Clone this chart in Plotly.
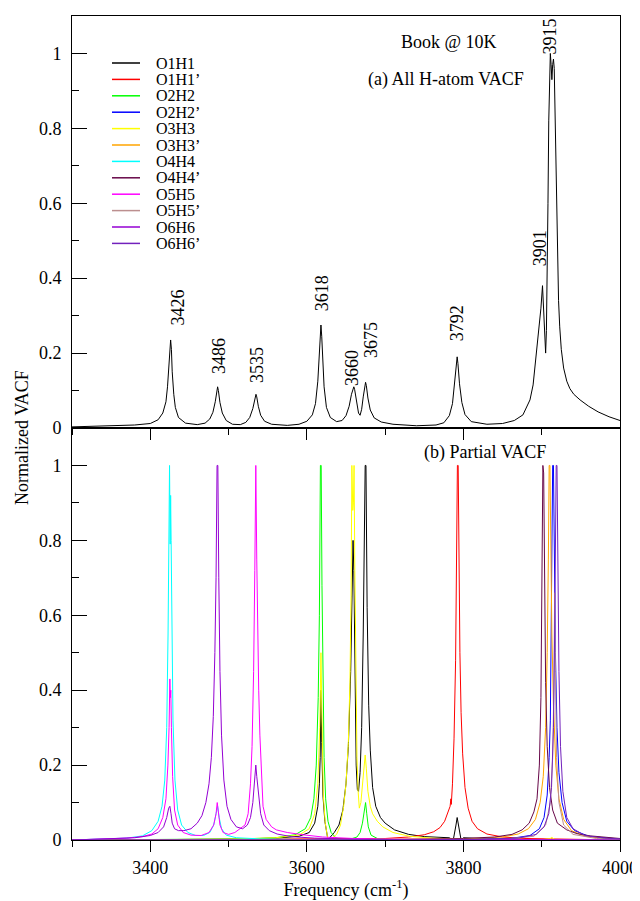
import plotly.graph_objects as go
from plotly.subplots import make_subplots

# ---------------- data: (a) all H-atom VACF ----------------
all_freq = [3300, 3350, 3380, 3400, 3410, 3416, 3420, 3422, 3424, 3425, 3426, 3427, 3428, 3430, 3432, 3436,
            3445, 3460, 3470, 3476, 3480, 3483, 3485, 3486, 3487, 3489, 3492, 3497, 3505, 3515, 3522, 3527,
            3531, 3533, 3535, 3536, 3538, 3541, 3546, 3555, 3575, 3590, 3600, 3607, 3611, 3614, 3616, 3617,
            3618, 3619, 3620, 3622, 3625, 3630, 3638, 3645, 3650, 3654, 3657, 3659, 3660, 3661, 3663, 3666,
            3668, 3670, 3672, 3674, 3675, 3676, 3678, 3681, 3686, 3695, 3710, 3740, 3765, 3775, 3782, 3786,
            3789, 3791, 3792, 3793, 3795, 3798, 3802, 3810, 3830, 3850, 3865, 3876, 3885, 3889, 3893, 3896,
            3899, 3901, 3902.5, 3904, 3905, 3906, 3907, 3908, 3909, 3910, 3911, 3912, 3913, 3914, 3915, 3916,
            3917, 3917.5, 3918, 3919, 3920, 3921.5, 3923, 3925, 3928, 3932, 3936, 3941, 3949, 3960, 3972, 3986,
            4000]
all_vacf = [0.003, 0.005, 0.008, 0.012, 0.022, 0.04, 0.07, 0.11, 0.18, 0.22, 0.235, 0.21, 0.15, 0.09, 0.055, 0.028,
            0.013, 0.009, 0.013, 0.024, 0.042, 0.07, 0.1, 0.11, 0.1, 0.068, 0.04, 0.02, 0.01, 0.009, 0.015, 0.028,
            0.052, 0.073, 0.09, 0.083, 0.058, 0.034, 0.018, 0.01, 0.007, 0.01, 0.018, 0.035, 0.065, 0.125, 0.2, 0.245,
            0.275, 0.245, 0.19, 0.11, 0.055, 0.028, 0.017, 0.02, 0.033, 0.058, 0.09, 0.107, 0.11, 0.103, 0.072, 0.04,
            0.034, 0.05, 0.083, 0.116, 0.122, 0.113, 0.08, 0.048, 0.027, 0.016, 0.01, 0.006, 0.008, 0.014, 0.033, 0.065,
            0.12, 0.172, 0.19, 0.172, 0.118, 0.068, 0.036, 0.017, 0.01, 0.012, 0.02, 0.035, 0.075, 0.115, 0.19, 0.25,
            0.32, 0.38, 0.3, 0.215, 0.2, 0.26, 0.4, 0.6, 0.82, 0.97, 1.0, 0.97, 0.93, 0.97, 0.985, 0.96,
            0.84, 0.8, 0.7, 0.55, 0.45, 0.34, 0.27, 0.21, 0.16, 0.125, 0.105, 0.09, 0.075, 0.058, 0.043, 0.03,
            0.02]

peak_labels = ["3426", "3486", "3535", "3618", "3660", "3675", "3792", "3901", "3915"]

# ---------------- data: (b) partial VACF ----------------
o1h1_freq = [3300, 3500, 3560, 3590, 3603, 3610, 3614, 3616, 3617, 3618, 3619, 3620.5, 3623, 3625.5, 3627, 3630,
             3635, 3641, 3646, 3650, 3653, 3656, 3658, 3659, 3660, 3661.5, 3663, 3664.5, 3666, 3668, 3670, 3672,
             3673.5, 3674.5, 3675.5, 3677, 3679, 3681, 3684, 3688, 3694, 3700, 3712, 3730, 3750, 3770, 3782, 3787,
             3789, 3790.5, 3792, 3793.5, 3795, 3797, 3800, 3830, 3900, 4000]
o1h1_vacf = [0.0, 0.002, 0.005, 0.01, 0.02, 0.045, 0.09, 0.15, 0.22, 0.4, 0.26, 0.12, 0.05, 0.015, 0.0, 0.008,
             0.02, 0.04, 0.08, 0.15, 0.25, 0.45, 0.7, 0.8, 0.72, 0.45, 0.2, 0.135, 0.13, 0.18, 0.3, 0.55,
             0.8, 1.0, 1.0, 0.62, 0.36, 0.24, 0.14, 0.09, 0.06, 0.045, 0.027, 0.015, 0.009, 0.006, 0.006, 0.0,
             0.02, 0.04, 0.06, 0.04, 0.018, 0.0, 0.006, 0.003, 0.001, 0.0]

o1h1p_freq = [3300, 3650, 3700, 3730, 3750, 3762, 3770, 3776, 3780, 3783, 3784, 3784.5, 3786, 3788, 3790, 3791.3,
              3792.3, 3793.3, 3794.3, 3795.5, 3797, 3799, 3802, 3806, 3811, 3818, 3830, 3850, 3880, 3950, 4000]
o1h1p_vacf = [0.0, 0.002, 0.004, 0.008, 0.014, 0.022, 0.033, 0.05, 0.07, 0.09, 0.11, 0.095, 0.15, 0.27, 0.48, 0.75,
              1.0, 1.0, 0.72, 0.5, 0.34, 0.23, 0.14, 0.085, 0.05, 0.03, 0.016, 0.008, 0.004, 0.001, 0.0]

o2h2_freq = [3300, 3450, 3520, 3560, 3585, 3598, 3605, 3609, 3612, 3614.5, 3616, 3617.3, 3618.3, 3619.3, 3620.5,
             3622, 3624, 3627, 3631, 3637, 3645, 3655, 3664, 3668, 3671, 3673, 3675, 3676.5, 3678.5, 3682, 3690,
             3705, 3750, 4000]
o2h2_vacf = [0.0, 0.001, 0.003, 0.006, 0.014, 0.03, 0.06, 0.11, 0.2, 0.38, 0.6, 1.0, 1.0, 0.68, 0.4,
             0.22, 0.11, 0.05, 0.02, 0.006, 0.0, 0.002, 0.008, 0.02, 0.045, 0.075, 0.1, 0.07, 0.035, 0.013, 0.004,
             0.001, 0.0, 0.0]

o2h2p_freq = [3300, 3800, 3860, 3885, 3897, 3903, 3907, 3909.5, 3911, 3912, 3913, 3914, 3915, 3916, 3917.5, 3919.5,
              3922, 3926, 3932, 3942, 3960, 3985, 4000]
o2h2p_vacf = [0.0, 0.001, 0.004, 0.012, 0.03, 0.06, 0.12, 0.22, 0.32, 0.5, 0.75, 1.0, 1.0, 0.78, 0.5, 0.3,
              0.18, 0.1, 0.05, 0.025, 0.01, 0.005, 0.003]

o3h3_freq = [3300, 3500, 3560, 3590, 3603, 3610, 3614, 3616.5, 3618, 3619.2, 3621, 3623.5, 3627, 3632, 3638, 3643,
             3647, 3650, 3653, 3655, 3656.5, 3657.5, 3658.7, 3659.5, 3660.3, 3661.3, 3662.5, 3664, 3665.5, 3667,
             3669, 3671.5, 3674.5, 3676, 3678, 3681, 3684, 3690, 3697, 3710, 3731, 3760, 3800, 3900, 3910, 3913,
             3916, 3930, 4000]
o3h3_vacf = [0.0, 0.002, 0.006, 0.013, 0.03, 0.07, 0.15, 0.3, 0.5, 0.3, 0.12, 0.045, 0.0, 0.005, 0.015, 0.04,
             0.09, 0.15, 0.26, 0.42, 0.65, 1.0, 0.88, 0.9, 1.0, 0.72, 0.42, 0.22, 0.13, 0.085,
             0.1, 0.16, 0.227, 0.19, 0.13, 0.09, 0.07, 0.05, 0.035, 0.02, 0.01, 0.005, 0.002, 0.001, 0.003, 0.007,
             0.002, 0.0, 0.0]

o3h3p_freq = [3300, 3700, 3800, 3850, 3870, 3883, 3892, 3898, 3902, 3905, 3907, 3908.5, 3909.5, 3910.5, 3911.5,
              3913, 3915, 3918, 3922, 3928, 3938, 3955, 3980, 4000]
o3h3p_vacf = [0.0, 0.001, 0.003, 0.008, 0.016, 0.03, 0.055, 0.1, 0.17, 0.3, 0.5, 0.75, 1.0, 1.0, 0.8,
              0.55, 0.36, 0.2, 0.11, 0.055, 0.025, 0.01, 0.004, 0.002]

o4h4_freq = [3300, 3340, 3370, 3390, 3402, 3410, 3415, 3418.5, 3421, 3422.7, 3423.8, 3424.6, 3425.4, 3426, 3426.6,
             3427.6, 3429, 3431.5, 3435, 3440, 3448, 3458, 3468, 3476, 3481, 3484, 3486, 3488, 3491, 3497, 3510,
             3540, 3600, 3700, 4000]
o4h4_vacf = [0.0, 0.002, 0.005, 0.011, 0.025, 0.05, 0.09, 0.16, 0.3, 0.55, 0.8, 1.0, 0.79, 0.92, 0.8,
             0.55, 0.32, 0.16, 0.08, 0.04, 0.02, 0.012, 0.012, 0.02, 0.04, 0.07, 0.09, 0.06, 0.03, 0.013, 0.006,
             0.003, 0.001, 0.0, 0.0]

o4h4p_freq = [3300, 3700, 3800, 3840, 3862, 3875, 3884, 3890, 3894, 3897, 3899, 3900.3, 3901.5, 3902.5, 3903.5,
              3905, 3907, 3910, 3914, 3920, 3932, 3945, 3962, 3985, 4000]
o4h4p_vacf = [0.0, 0.001, 0.004, 0.008, 0.015, 0.027, 0.045, 0.075, 0.11, 0.2, 0.38, 0.75, 1.0, 0.98, 0.7,
              0.42, 0.25, 0.14, 0.08, 0.045, 0.027, 0.017, 0.011, 0.006, 0.004]

o5h5_freq = [3300, 3340, 3370, 3390, 3402, 3410, 3416, 3420, 3422.5, 3424, 3425, 3425.6, 3426.2, 3427, 3428.5,
             3431, 3435, 3442, 3452, 3465, 3475, 3481, 3484, 3485.5, 3487, 3489, 3493, 3500, 3508, 3515, 3521,
             3525, 3528, 3530, 3532, 3533.5, 3534.8, 3536, 3537, 3537.3, 3538.5, 3540, 3542, 3544, 3548, 3555,
             3561, 3575, 3595, 3620, 3660, 3720, 4000]
o5h5_vacf = [0.0, 0.002, 0.005, 0.009, 0.016, 0.03, 0.06, 0.11, 0.2, 0.3, 0.43, 0.38, 0.4, 0.3, 0.17,
             0.08, 0.04, 0.02, 0.013, 0.012, 0.02, 0.04, 0.07, 0.1, 0.07, 0.04, 0.02, 0.015, 0.02, 0.03, 0.04,
             0.07, 0.15, 0.25, 0.45, 0.72, 1.0, 0.75, 0.54, 0.48, 0.4, 0.28, 0.16, 0.09, 0.055, 0.035,
             0.027, 0.02, 0.014, 0.008, 0.004, 0.002, 0.0]

o5h5p_freq = [3300, 3850, 3890, 3905, 3911, 3914, 3915.5, 3916.5, 3917.5, 3919, 3922, 3928, 3940, 3970, 4000]
o5h5p_vacf = [0.0, 0.002, 0.01, 0.04, 0.1, 0.22, 0.4, 0.66, 0.45, 0.22, 0.1, 0.04, 0.015, 0.004, 0.002]

o6h6_freq = [3300, 3350, 3380, 3400, 3410, 3417, 3421, 3423.5, 3425, 3426.5, 3428, 3431, 3436, 3443, 3452, 3460,
             3466, 3471, 3475, 3478, 3480.5, 3482.5, 3484, 3485.3, 3486.3, 3487.5, 3489, 3491, 3494, 3498, 3503,
             3510, 3518, 3524, 3528, 3531, 3533, 3534.8, 3536, 3537, 3538.5, 3541, 3545, 3552, 3562, 3580, 3610,
             3660, 3750, 4000]
o6h6_vacf = [0.0, 0.003, 0.006, 0.012, 0.02, 0.035, 0.06, 0.085, 0.09, 0.07, 0.045, 0.03, 0.025, 0.025, 0.03, 0.045,
             0.065, 0.1, 0.15, 0.22, 0.33, 0.5, 0.7, 1.0, 1.0, 0.7, 0.45, 0.28, 0.16, 0.09, 0.055,
             0.035, 0.03, 0.04, 0.06, 0.1, 0.15, 0.2, 0.17, 0.15, 0.12, 0.07, 0.04, 0.025, 0.016, 0.009, 0.005,
             0.002, 0.001, 0.0]

o6h6p_freq = [3300, 3800, 3870, 3893, 3903, 3909, 3912.5, 3915, 3916.5, 3917.5, 3918.5, 3919.5, 3920.5, 3922, 3924,
              3927, 3932, 3940, 3955, 3980, 4000]
o6h6p_vacf = [0.0, 0.001, 0.005, 0.015, 0.035, 0.07, 0.14, 0.3, 0.55, 0.85, 1.0, 1.0, 0.72, 0.45, 0.25,
              0.13, 0.06, 0.03, 0.012, 0.005, 0.003]

series_names = ["O1H1", "O1H1’", "O2H2", "O2H2’", "O3H3", "O3H3’",
                "O4H4", "O4H4’", "O5H5", "O5H5’", "O6H6", "O6H6’"]
series_freq = [o1h1_freq, o1h1p_freq, o2h2_freq, o2h2p_freq, o3h3_freq, o3h3p_freq,
               o4h4_freq, o4h4p_freq, o5h5_freq, o5h5p_freq, o6h6_freq, o6h6p_freq]
series_vacf = [o1h1_vacf, o1h1p_vacf, o2h2_vacf, o2h2p_vacf, o3h3_vacf, o3h3p_vacf,
               o4h4_vacf, o4h4p_vacf, o5h5_vacf, o5h5p_vacf, o6h6_vacf, o6h6p_vacf]

# ---------------- styles ----------------
series_colors = ["#000000", "#ff0000", "#00ff00", "#0000ff", "#ffff00", "#ffa500",
                 "#00ffff", "#670748", "#ff00ff", "#bc8f8f", "#9400d3", "#7221bc"]
FONT = "Liberation Serif, Times New Roman, serif"
FS = 18
LEG_FS = 16

# the page body has an 8 px margin; the figure is sized so that the plot
# area lands at x 72..620, y 16..840 of the window
W, H = 632, 893
ML, MR, MT, MB = 64, 20, 8, 61
PLOT_L, PLOT_R, PLOT_T, PLOT_B = 72, 620, 16, 840


def px_x(px):
    return (px - PLOT_L) / (PLOT_R - PLOT_L)


def px_y(py):
    return (PLOT_B - py) / (PLOT_B - PLOT_T)


fig = make_subplots(rows=2, cols=1, shared_xaxes=True, vertical_spacing=0)

fig.add_trace(go.Scatter(x=all_freq, y=all_vacf, mode="lines", name="All H",
                         line=dict(color="black", width=1), showlegend=False), row=1, col=1)

for name, fr, va, col in zip(series_names, series_freq, series_vacf, series_colors):
    fig.add_trace(go.Scatter(x=fr, y=va, mode="lines", name=name,
                             line=dict(color=col, width=1), showlegend=False), row=2, col=1)

# peak labels in the top panel (placement beside each peak)
label_pos = [(3436, 0.323), (3487.5, 0.192), (3536.3, 0.168), (3619.3, 0.36), (3657.6, 0.16),
             (3682, 0.235), (3791.8, 0.28), (3897.8, 0.48), (3910.5, 1.045)]
for txt, (lx, ly) in zip(peak_labels, label_pos):
    fig.add_annotation(x=lx, y=ly, xref="x", yref="y", text=txt, showarrow=False,
                       textangle=-90, font=dict(family=FONT, size=FS, color="black"))

# legend drawn with the original's tight line spacing
for i, (name, col) in enumerate(zip(series_names, series_colors)):
    yy = px_y(63 + 16.4 * i)
    fig.add_shape(type="line", xref="paper", yref="paper", x0=px_x(112), x1=px_x(140), y0=yy, y1=yy,
                  line=dict(color=col, width=1.5))
    fig.add_annotation(x=px_x(154), y=yy, xref="paper", yref="paper", text=name, showarrow=False,
                       xanchor="left", yanchor="middle", font=dict(family=FONT, size=LEG_FS, color="black"))

for txt, cx, cy in [("Book @ 10K", 449, 42), ("(a) All H-atom VACF", 446, 80), ("(b) Partial VACF", 485, 453)]:
    fig.add_annotation(x=px_x(cx), y=px_y(cy), xref="paper", yref="paper", text=txt, showarrow=False,
                       xanchor="center", yanchor="middle", font=dict(family=FONT, size=FS, color="black"))

fig.add_annotation(x=px_x(22), y=px_y(438), xref="paper", yref="paper", text="Normalized VACF", showarrow=False,
                   textangle=-90, xanchor="center", yanchor="middle",
                   font=dict(family=FONT, size=FS, color="black"))

axis_common = dict(showline=True, linecolor="black", linewidth=1, mirror=True, showgrid=False,
                   zeroline=False, tickcolor="black", tickwidth=1,
                   tickfont=dict(family=FONT, size=FS, color="black"))

for r in (1, 2):
    fig.update_xaxes(range=[3300, 4000], tick0=3400, dtick=200, ticks="outside", ticklen=11,
                     minor=dict(dtick=100, tick0=3300, ticks="outside", ticklen=6, tickcolor="black"),
                     row=r, col=1, **axis_common)
    fig.update_yaxes(range=[0, 1.1], tick0=0, dtick=0.2, ticks="inside", ticklen=15,
                     ticklabelstandoff=6,
                     minor=dict(dtick=0.1, ticks="inside", ticklen=7, tickcolor="black"),
                     row=r, col=1, **axis_common)

fig.update_xaxes(showticklabels=False, row=1, col=1)
fig.update_xaxes(title=dict(text="Frequency (cm<sup>-1</sup>)", font=dict(family=FONT, size=FS, color="black"),
                            standoff=2), row=2, col=1)

fig.update_layout(width=W, height=H, margin=dict(l=ML, r=MR, t=MT, b=MB, autoexpand=False),
                  plot_bgcolor="white", paper_bgcolor="white", showlegend=False,
                  font=dict(family=FONT, size=FS, color="black"))

fig.write_html("out.html")
